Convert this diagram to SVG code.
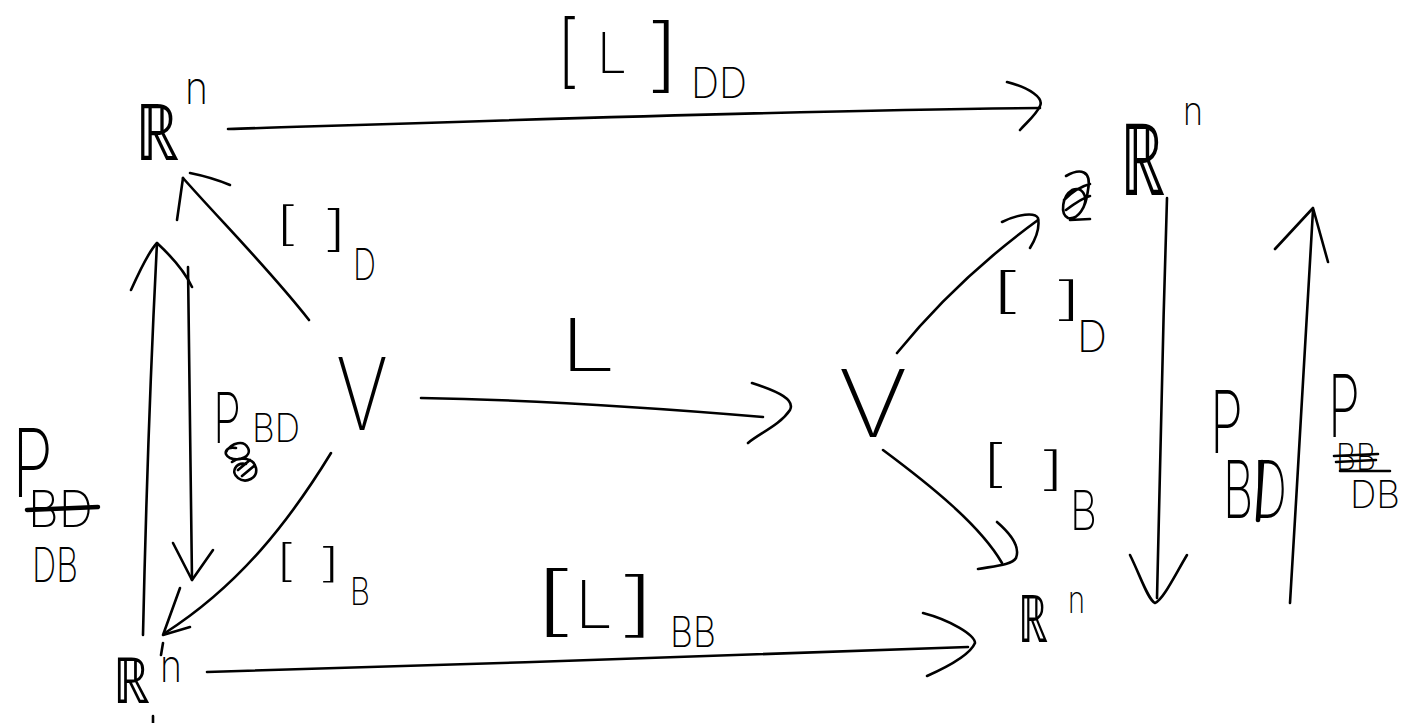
<svg xmlns="http://www.w3.org/2000/svg" width="1408" height="723" viewBox="0 0 1408 723">
  <style>
    .ln { fill: none; stroke: #000; stroke-width: 2.6; stroke-linecap: round; stroke-linejoin: round; }
    .hv { fill: none; stroke: #000; stroke-width: 4.5; stroke-linecap: round; }
    text { fill: #000; font-family: Inter, "DejaVu Sans", "Liberation Sans", sans-serif; font-weight: 200; }
    .bb { font-family: "DejaVu Sans", "Noto Sans", sans-serif; }
  </style>
  <rect width="1408" height="723" fill="#fff"/>

  <!-- connectors: shafts and open hand-drawn heads -->
  <g id="connectors">
    <!-- R^n (top left) -> R^n (top right): [L]_DD -->
    <path class="ln" d="M228,129 C450,122 800,110 1040,108"/>
    <path class="ln" d="M1007,82 C1030,88 1044,98 1040,106 C1036,115 1027,122 1020,130"/>
    <!-- V -> R^n (top left): [ ]_D -->
    <path class="ln" d="M309,320 C270,270 220,220 183,178"/>
    <path class="ln" d="M177,220 L183,178"/>
    <path class="ln" d="M190,173 C205,176 218,180 230,185"/>
    <!-- R^n (bottom left) -> R^n (top left): P_DB -->
    <path class="ln" d="M143,635 C146,500 152,340 157,243"/>
    <path class="ln" d="M131,290 C140,270 150,250 157,243 C170,255 185,272 192,287"/>
    <!-- R^n (top left) -> R^n (bottom left): P_BD -->
    <path class="ln" d="M188,267 C190,380 190,480 192,580"/>
    <path class="ln" d="M173,543 L192,580 L213,550"/>
    <!-- V -> R^n (bottom left): [ ]_B -->
    <path class="ln" d="M331,453 C290,520 240,585 165,633"/>
    <path class="ln" d="M180,588 L163,635 L190,627"/>
    <!-- V -> V: L -->
    <path class="ln" d="M421,398 C550,400 680,410 763,417"/>
    <path class="ln" d="M752,383 C780,392 795,400 790,410 C780,425 760,433 748,443"/>
    <!-- V -> R^n (top right): [ ]_D -->
    <path class="ln" d="M897,353 C940,300 990,255 1038,220"/>
    <path class="ln" d="M1002,222 C1018,214 1035,212 1038,218 C1040,228 1035,240 1030,248"/>
    <!-- V -> R^n (bottom right): [ ]_B -->
    <path class="ln" d="M883,450 C930,485 980,525 1002,563"/>
    <path class="ln" d="M997,522 C1012,535 1020,548 1016,558 C1012,565 995,566 978,569"/>
    <!-- R^n (bottom left) -> R^n (bottom right): [L]_BB -->
    <path class="ln" d="M207,672 C450,665 750,655 968,647"/>
    <path class="ln" d="M923,613 C950,620 975,635 975,643 C970,655 945,668 927,676"/>
    <!-- R^n (top right) -> R^n (bottom right): P_BD -->
    <path class="ln" d="M1167,198 C1163,330 1160,450 1157,598"/>
    <path class="ln" d="M1130,555 C1140,575 1148,600 1155,603 C1163,600 1175,575 1187,555"/>
    <!-- R^n (bottom right) -> R^n (top right): P_DB -->
    <path class="ln" d="M1290,603 C1298,470 1306,330 1313,210"/>
    <path class="ln" d="M1275,249 L1313,208 L1328,262"/>
  </g>

  <!-- nodes -->
  <g id="rn-top-left">
    <text class="bb" x="135" y="160" font-size="78" textLength="44" lengthAdjust="spacingAndGlyphs">ℝ</text>
    <text x="185" y="104" font-size="46" textLength="23" lengthAdjust="spacingAndGlyphs">n</text>
  </g>
  <g id="v-left">
    <text x="336" y="430" font-size="100" textLength="52" lengthAdjust="spacingAndGlyphs">V</text>
  </g>
  <g id="v-right">
    <text x="838" y="437" font-size="93" textLength="70" lengthAdjust="spacingAndGlyphs">V</text>
  </g>
  <g id="rn-top-right">
    <!-- scribbled-out mark before the symbol -->
    <path class="ln" d="M1066,176 C1080,168 1092,170 1088,190 C1086,208 1078,220 1068,218 C1060,214 1062,196 1072,190 C1082,186 1088,196 1084,206 M1064,200 C1072,192 1082,186 1090,184 M1066,210 C1074,204 1082,198 1090,196 M1070,220 L1090,219"/>
    <text class="bb" x="1120" y="195" font-size="100" textLength="45" lengthAdjust="spacingAndGlyphs">ℝ</text>
    <text x="1183" y="125" font-size="40" textLength="20" lengthAdjust="spacingAndGlyphs">n</text>
  </g>
  <g id="rn-bottom-left">
    <text class="bb" x="113" y="703" font-size="64" textLength="37" lengthAdjust="spacingAndGlyphs">ℝ</text>
    <text x="160" y="682" font-size="46" textLength="22" lengthAdjust="spacingAndGlyphs">n</text>
    <path class="ln" d="M163,643 L161,655 M153,716 L153,723"/>
  </g>
  <g id="rn-bottom-right">
    <text class="bb" x="1018" y="642" font-size="66" textLength="30" lengthAdjust="spacingAndGlyphs">ℝ</text>
    <text x="1068" y="613" font-size="38" textLength="17" lengthAdjust="spacingAndGlyphs">n</text>
  </g>

  <!-- edge labels -->
  <g id="label-L-DD">
    <text x="556" y="78" font-size="80" textLength="24" lengthAdjust="spacingAndGlyphs">[</text>
    <text x="597" y="73" font-size="56" textLength="30" lengthAdjust="spacingAndGlyphs">L</text>
    <text x="645" y="82" font-size="80" textLength="37" lengthAdjust="spacingAndGlyphs">]</text>
    <text x="691" y="98" font-size="42" textLength="56" lengthAdjust="spacingAndGlyphs">DD</text>
  </g>
  <g id="label-D-left">
    <text x="274" y="240" font-size="46" textLength="25" lengthAdjust="spacingAndGlyphs">[</text>
    <text x="322" y="245" font-size="48" textLength="27" lengthAdjust="spacingAndGlyphs">]</text>
    <text x="353" y="280" font-size="44" textLength="23" lengthAdjust="spacingAndGlyphs">D</text>
  </g>
  <g id="label-B-left">
    <text x="275" y="576" font-size="44" textLength="21" lengthAdjust="spacingAndGlyphs">[</text>
    <text x="318" y="577" font-size="40" textLength="24" lengthAdjust="spacingAndGlyphs">]</text>
    <text x="350" y="605" font-size="38" textLength="20" lengthAdjust="spacingAndGlyphs">B</text>
  </g>
  <g id="label-L">
    <text x="560" y="371" font-size="73" textLength="56" lengthAdjust="spacingAndGlyphs">L</text>
  </g>
  <g id="label-L-BB">
    <text x="529" y="627" font-size="76" textLength="49" lengthAdjust="spacingAndGlyphs">[</text>
    <text x="575" y="628" font-size="66" textLength="38" lengthAdjust="spacingAndGlyphs">L</text>
    <text x="616" y="628" font-size="70" textLength="43" lengthAdjust="spacingAndGlyphs">]</text>
    <text x="670" y="647" font-size="42" textLength="46" lengthAdjust="spacingAndGlyphs">BB</text>
  </g>
  <g id="label-D-right">
    <text x="988" y="307" font-size="48" textLength="35" lengthAdjust="spacingAndGlyphs">[</text>
    <text x="1052" y="315" font-size="46" textLength="33" lengthAdjust="spacingAndGlyphs">]</text>
    <text x="1077" y="352" font-size="44" textLength="30" lengthAdjust="spacingAndGlyphs">D</text>
  </g>
  <g id="label-B-right">
    <text x="980" y="481" font-size="50" textLength="28" lengthAdjust="spacingAndGlyphs">[</text>
    <text x="1038" y="485" font-size="46" textLength="29" lengthAdjust="spacingAndGlyphs">]</text>
    <text x="1070" y="530" font-size="55" textLength="27" lengthAdjust="spacingAndGlyphs">B</text>
  </g>
  <g id="label-P-BD-inner">
    <text x="213" y="443" font-size="70" textLength="28" lengthAdjust="spacingAndGlyphs">P</text>
    <text x="252" y="442" font-size="40" textLength="48" lengthAdjust="spacingAndGlyphs">BD</text>
    <!-- scribbled-out subscript -->
    <path class="ln" d="M226,452 C232,442 244,440 248,448 C252,456 240,462 230,458 C222,454 226,446 236,448 M232,462 C240,456 254,458 256,468 C258,478 246,484 238,478 C230,472 236,462 246,464 M238,470 L250,460 M242,476 L254,466"/>
  </g>
  <g id="label-P-DB-left">
    <text x="12" y="497" font-size="95" textLength="41" lengthAdjust="spacingAndGlyphs">P</text>
    <text x="28" y="527" font-size="50" textLength="65" lengthAdjust="spacingAndGlyphs">BD</text>
    <path class="hv" d="M27,510 L98,507"/>
    <text x="32" y="582" font-size="48" textLength="46" lengthAdjust="spacingAndGlyphs">DB</text>
  </g>
  <g id="label-P-BD-right">
    <text x="1210" y="453" font-size="86" textLength="33" lengthAdjust="spacingAndGlyphs">P</text>
    <text x="1223" y="518" font-size="80" textLength="64" lengthAdjust="spacingAndGlyphs">BD</text>
    <!-- overwritten stroke in the D -->
    <path class="hv" d="M1262,462 L1258,520"/>
  </g>
  <g id="label-P-DB-right">
    <text x="1328" y="437" font-size="86" textLength="32" lengthAdjust="spacingAndGlyphs">P</text>
    <text x="1336" y="470" font-size="36" textLength="40" lengthAdjust="spacingAndGlyphs">BB</text>
    <path class="ln" d="M1334,456 L1378,454 M1336,462 L1376,460 M1340,471 L1390,471"/>
    <text x="1350" y="508" font-size="38" textLength="50" lengthAdjust="spacingAndGlyphs">DB</text>
  </g>
</svg>
